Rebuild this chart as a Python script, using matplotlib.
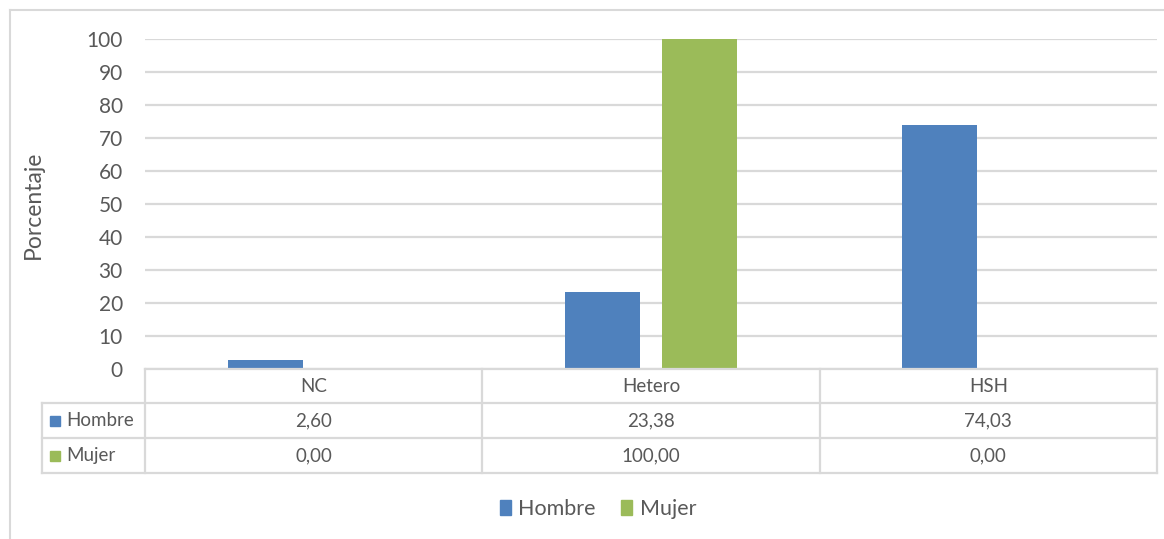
import matplotlib
matplotlib.use("Agg")
import matplotlib.pyplot as plt
from matplotlib.patches import Patch
import numpy as np

categories = ["NC", "Hetero", "HSH"]
series_names = ["Hombre", "Mujer"]
hombre = [2.60, 23.38, 74.03]
mujer = [0.00, 100.00, 0.00]
y_ticks = [0, 10, 20, 30, 40, 50, 60, 70, 80, 90, 100]

BLUE = "#4F81BD"
GREEN = "#9BBB59"
GRID = "#D9D9D9"
TEXT = "#595959"

plt.rcParams['font.family'] = ['Lato', 'DejaVu Sans']

W, H = 1164, 539
fig = plt.figure(figsize=(W / 100, H / 100), dpi=100)

def fx(px):
    return px / W

def fy(py):
    return 1 - py / H

# plot area
L, R, T, B = 145, 1157, 39, 369
ax = fig.add_axes([fx(L), fy(B), fx(R - L), (B - T) / H])
x = np.arange(len(categories))
off = 0.1437
bw = 0.222
ax.bar(x - off, hombre, bw, color=BLUE, zorder=3)
ax.bar(x + off, mujer, bw, color=GREEN, zorder=3)
ax.set_xlim(-0.5, 2.5)
ax.set_ylim(0, 100)
ax.set_yticks(y_ticks)
ax.set_xticks([])
ax.tick_params(axis='y', length=0, pad=16, labelsize=15, labelcolor=TEXT)
ax.yaxis.grid(True, color=GRID, linewidth=1.6, zorder=0)
for s in ax.spines.values():
    s.set_visible(False)
ax.set_facecolor("none")

# y label
fig.text(fx(33), fy((T + B) / 2 + 1), "Porcentaje", rotation=90, ha="center",
         va="center", fontsize=16.5, color=TEXT)

# data table axes
TL = 42
rows_y = [369, 403, 438, 473]
tab = fig.add_axes([0, 0, 1, 1])
tab.set_xlim(0, W)
tab.set_ylim(H, 0)
tab.axis("off")
tab.patch.set_visible(False)
lw = 1.6
cell_w = (R - L) / len(categories)
col_x = [L + i * cell_w for i in range(len(categories) + 1)]
tab.plot([L, R], [rows_y[0], rows_y[0]], color=GRID, lw=lw)
for yy in rows_y[1:]:
    tab.plot([TL, R], [yy, yy], color=GRID, lw=lw)
for xx in col_x:
    tab.plot([xx, xx], [rows_y[0], rows_y[-1]], color=GRID, lw=lw)
tab.plot([TL, TL], [rows_y[1], rows_y[-1]], color=GRID, lw=lw)

TFS = 13.5
for i, c in enumerate(categories):
    tab.text((col_x[i] + col_x[i + 1]) / 2, (rows_y[0] + rows_y[1]) / 2, c,
             ha="center", va="center", fontsize=TFS, color=TEXT)

def fmt(v):
    return f"{v:.2f}".replace(".", ",")

for r, (name, vals, col) in enumerate(zip(series_names, [hombre, mujer], [BLUE, GREEN])):
    yc = (rows_y[r + 1] + rows_y[r + 2]) / 2
    tab.add_patch(plt.Rectangle((50, yc - 5), 10, 10, color=col))
    tab.text(66, yc, name, ha="left", va="center", fontsize=TFS, color=TEXT)
    for i, v in enumerate(vals):
        tab.text((col_x[i] + col_x[i + 1]) / 2, yc, fmt(v),
                 ha="center", va="center", fontsize=TFS, color=TEXT)

# outer chart frame (top and left visible)
tab.plot([10, W], [10, 10], color=GRID, lw=1.5)
tab.plot([10, 10], [10, H], color=GRID, lw=1.5)

# legend
handles = [Patch(color=BLUE, label=series_names[0]), Patch(color=GREEN, label=series_names[1])]
fig.legend(handles=handles, loc="center", bbox_to_anchor=(fx(598), fy(509)), ncol=2,
           frameon=False, fontsize=15.5, handlelength=0.5, handleheight=0.65,
           handletextpad=0.35, columnspacing=1.2, labelcolor=TEXT)

fig.savefig("out.png", dpi=100, facecolor="white")
